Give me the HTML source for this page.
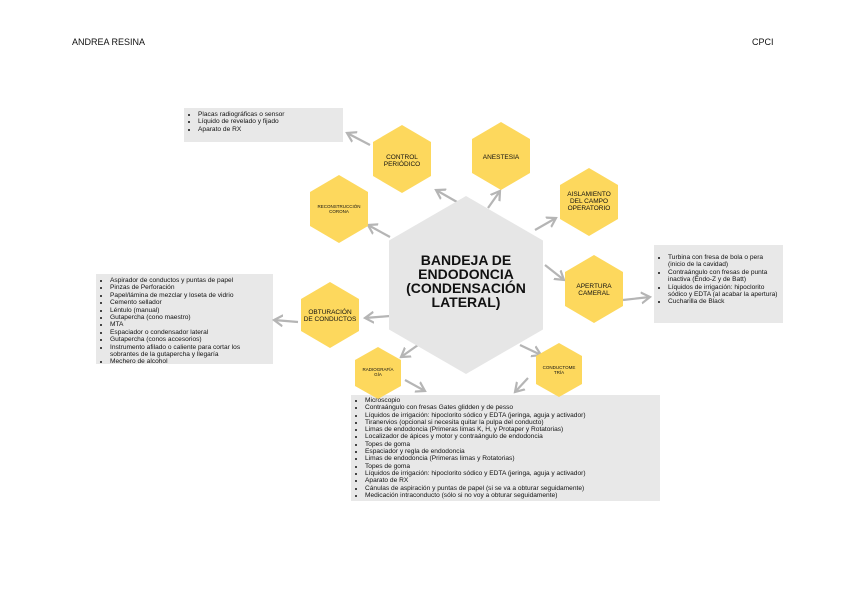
<!DOCTYPE html>
<html><head><meta charset="utf-8"><style>
body{margin:0;width:848px;height:599px;background:#fff;position:relative;overflow:hidden;font-family:"Liberation Sans",sans-serif;color:#111}
.h{position:absolute;font-size:9px;top:37px}
.box{position:absolute;background:#e8e8e8;font-size:6.6px;line-height:7.4px;box-sizing:border-box;padding:3px 4px}
.box ul{margin:0;padding-left:10px}
svg{position:absolute;left:0;top:0}
</style></head><body>
<div class="h" style="left:72px">ANDREA RESINA</div>
<div class="h" style="left:752px">CPCI</div>
<div class="box" style="left:184px;top:108px;width:159px;height:34px"><ul><li>Placas radiográficas o sensor</li><li>Líquido de revelado y fijado</li><li>Aparato de RX</li></ul></div>
<div class="box" style="left:96px;top:274px;width:177px;height:90px"><ul><li>Aspirador de conductos y puntas de papel</li><li>Pinzas de Perforación</li><li>Papel/lámina de mezclar y loseta de vidrio</li><li>Cemento sellador</li><li>Léntulo (manual)</li><li>Gutapercha (cono maestro)</li><li>MTA</li><li>Espaciador o condensador lateral</li><li>Gutapercha (conos accesorios)</li><li>Instrumento afilado o caliente para cortar los sobrantes de la gutapercha y llegaría</li><li>Mechero de alcohol</li></ul></div>
<div class="box" style="left:654px;top:245px;width:129px;height:78px;padding-top:9px"><ul><li>Turbina con fresa de bola o pera (inicio de la cavidad)</li><li>Contraángulo con fresas de punta inactiva (Endo-Z y de Batt)</li><li>Líquidos de irrigación: hipoclorito sódico y EDTA (al acabar la apertura)</li><li>Cucharilla de Black</li></ul></div>
<div class="box" style="left:351px;top:395px;width:309px;height:106px;padding-top:2px;line-height:7.3px"><ul><li>Microscopio</li><li>Contraángulo con fresas Gates glidden y de pesso</li><li>Líquidos de irrigación: hipoclorito sódico y EDTA (jeringa, aguja y activador)</li><li>Tiranervios (opcional si necesita quitar la pulpa del conducto)</li><li>Limas de endodoncia (Primeras limas K, H, y Protaper y Rotatorias)</li><li>Localizador de ápices y motor y contraángulo de endodoncia</li><li>Topes de goma</li><li>Espaciador y regla de endodoncia</li><li>Limas de endodoncia (Primeras limas y Rotatorias)</li><li>Topes de goma</li><li>Líquidos de irrigación: hipoclorito sódico y EDTA (jeringa, aguja y activador)</li><li>Aparato de RX</li><li>Cánulas de aspiración y puntas de papel (si se va a obturar seguidamente)</li><li>Medicación intraconducto (sólo si no voy a obturar seguidamente)</li></ul></div>
<svg width="848" height="599" viewBox="0 0 848 599">
<defs><marker id="a" markerWidth="6" markerHeight="6" refX="4" refY="3" orient="auto" markerUnits="strokeWidth"><path d="M0,0.5 L4,3 L0,5.5" fill="none" stroke="#b5b5b5" stroke-width="1"/></marker></defs>
<g stroke="#b5b5b5" stroke-width="2.2" fill="none" marker-end="url(#a)">
<line x1="457" y1="202" x2="436" y2="190"/>
<line x1="370" y1="145" x2="347" y2="133"/>
<line x1="488" y1="208" x2="500" y2="191"/>
<line x1="535" y1="230" x2="556" y2="218"/>
<line x1="390" y1="237" x2="368" y2="225"/>
<line x1="545" y1="265" x2="564" y2="280"/>
<line x1="623" y1="300" x2="650" y2="297"/>
<line x1="390" y1="316" x2="365" y2="318"/>
<line x1="298" y1="322" x2="274" y2="320"/>
<line x1="418" y1="345" x2="401" y2="357"/>
<line x1="405" y1="380" x2="425" y2="391"/>
<line x1="520" y1="345" x2="541" y2="355"/>
<line x1="528" y1="378" x2="515" y2="392"/>
</g>
<polygon points="466,196 543,240.5 543,329.5 466,374 389,329.5 389,240.5" fill="#e6e6e6"/>
<g fill="#fdd85d">
<polygon points="402,125 431,142 431,176 402,193 373,176 373,142"/>
<polygon points="501,122 530,139 530,173 501,190 472,173 472,139"/>
<polygon points="589,168 618,185 618,219 589,236 560,219 560,185"/>
<polygon points="339,175 368,192 368,226 339,243 310,226 310,192"/>
<polygon points="594,255 623,272 623,306 594,323 565,306 565,272"/>
<polygon points="330,282 359,299 359,331 330,348 301,331 301,299"/>
<polygon points="378,347 401,360 401,386 378,399 355,386 355,360"/>
<polygon points="559,343 582,356 582,384 559,397 536,384 536,356"/>
</g>
<g font-family="Liberation Sans,sans-serif" text-anchor="middle" fill="#111">
<text x="466" y="265" font-size="14" font-weight="bold">BANDEJA DE</text>
<text x="466" y="279" font-size="14" font-weight="bold">ENDODONCIA</text>
<text x="466" y="293" font-size="14" font-weight="bold">(CONDENSACIÓN</text>
<text x="466" y="307" font-size="14" font-weight="bold">LATERAL)</text>
<g font-size="6.5">
<text x="402" y="159">CONTROL</text><text x="402" y="166">PERIÓDICO</text>
<text x="501" y="159">ANESTESIA</text>
<text x="589" y="196">AISLAMIENTO</text><text x="589" y="203">DEL CAMPO</text><text x="589" y="210">OPERATORIO</text>
<text x="594" y="288">APERTURA</text><text x="594" y="295">CAMERAL</text>
<text x="330" y="314">OBTURACIÓN</text><text x="330" y="321">DE CONDUCTOS</text>
</g>
<g font-size="4.5">
<text x="339" y="208">RECONSTRUCCIÓN</text><text x="339" y="213">CORONA</text>
<text x="378" y="371">RADIOGRAFÍA</text><text x="378" y="376">GÍA</text>
<text x="559" y="369">CONDUCTOME</text><text x="559" y="374">TRÍA</text>
</g></g>
</svg>
</body></html>
